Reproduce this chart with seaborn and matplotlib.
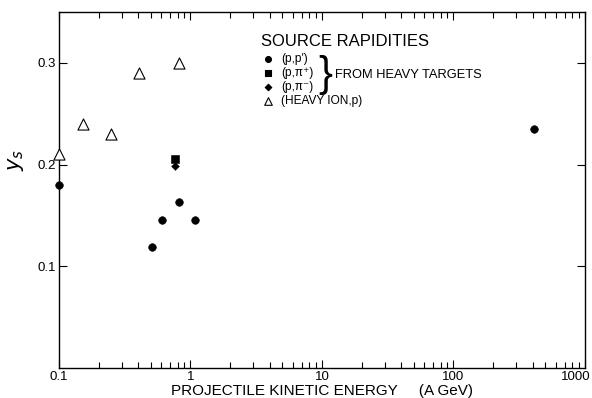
import matplotlib
matplotlib.use("Agg")
import matplotlib.pyplot as plt
import matplotlib.transforms as mtransforms
import seaborn as sns
from matplotlib.ticker import FixedLocator, LogLocator, NullFormatter

# source rapidities vs projectile kinetic energy (A GeV)
pp_x = [0.1, 0.51, 0.61, 0.82, 1.08, 410]
pp_y = [0.180, 0.119, 0.145, 0.163, 0.145, 0.235]
pip_x = [0.76]
pip_y = [0.205]
pim_x = [0.76]
pim_y = [0.199]
hi_x = [0.1, 0.152, 0.248, 0.405, 0.82]
hi_y = [0.210, 0.240, 0.230, 0.290, 0.300]

x_ticks = [0.1, 1, 10, 100, 1000]
x_labels = ["0.1", "1", "10", "100", "1000"]
y_ticks = [0.1, 0.2, 0.3]
y_labels = ["0.1", "0.2", "0.3"]

sns.set_style("ticks")
plt.rcParams["font.family"] = ["Liberation Sans", "DejaVu Sans"]
plt.rcParams.update({"text.color": "black", "axes.labelcolor": "black",
                     "xtick.color": "black", "ytick.color": "black"})

fig = plt.figure(figsize=(5.92, 3.98), dpi=100)
ax = fig.add_axes([0.0997, 0.0754, 0.8883, 0.8946])

sns.scatterplot(x=pp_x, y=pp_y, marker="o", s=30, color="black",
                edgecolor="black", ax=ax, clip_on=False, zorder=3)
sns.scatterplot(x=pip_x, y=pip_y, marker="s", s=26, color="black",
                edgecolor="black", ax=ax, clip_on=False, zorder=3)
sns.scatterplot(x=pim_x, y=pim_y, marker="D", s=16, color="black",
                edgecolor="black", ax=ax, clip_on=False, zorder=3)
sns.scatterplot(x=hi_x, y=hi_y, marker="^", s=64, facecolor="white",
                edgecolor="black", linewidth=0.8, ax=ax, clip_on=False, zorder=3)

ax.set_xscale("log")
ax.set_xlim(0.1, 1000)
ax.set_ylim(0, 0.35)
ax.xaxis.set_major_locator(FixedLocator(x_ticks))
ax.set_xticklabels(x_labels)
ax.xaxis.set_minor_locator(LogLocator(base=10, subs=range(2, 10)))
ax.xaxis.set_minor_formatter(NullFormatter())
ax.set_yticks(y_ticks)
ax.set_yticklabels(y_labels)

ax.tick_params(which="both", direction="in", top=True, right=True,
               labelsize=9.5, width=0.8, color="black", labelcolor="black", pad=2)
ax.tick_params(which="major", length=6)
ax.tick_params(which="minor", length=4)
for sp in ax.spines.values():
    sp.set_linewidth(1.0)
    sp.set_color("black")

# last label sits a little left of its tick, as in the original
last = ax.get_xticklabels()[-1]
last.set_transform(last.get_transform() +
                   mtransforms.ScaledTranslation(-0.09, 0, fig.dpi_scale_trans))

ax.set_xlabel("PROJECTILE KINETIC ENERGY     (A GeV)", fontsize=11, labelpad=1)
ax.set_ylabel("$y_s$", fontsize=15)
ax.yaxis.set_label_coords(-0.062, 0.584)

# legend block
t = ax.transAxes
ax.text(0.385, 0.916, "SOURCE RAPIDITIES", transform=t, fontsize=12, va="center")
rows = [("o", 0.868, "(p,p\u2032)", 18), ("s", 0.829, "(p,\u03c0\u207a)", 18),
        ("D", 0.789, "(p,\u03c0\u207b)", 11), ("^", 0.750, "(HEAVY ION,p)", 30)]
for mk, yy, lab, sz in rows:
    fc = "white" if mk == "^" else "black"
    ax.scatter([0.397], [yy], transform=t, marker=mk, s=sz, facecolor=fc,
               edgecolor="black", linewidth=0.8, clip_on=False)
    ax.text(0.422, yy, lab, transform=t, fontsize=8.6, va="center")
ax.text(0.506, 0.823, "}", transform=t, fontsize=30, va="center",
        ha="center", fontweight="light")
ax.text(0.524, 0.823, "FROM HEAVY TARGETS", transform=t, fontsize=9.3,
        va="center")

fig.savefig("out.png", dpi=100)
